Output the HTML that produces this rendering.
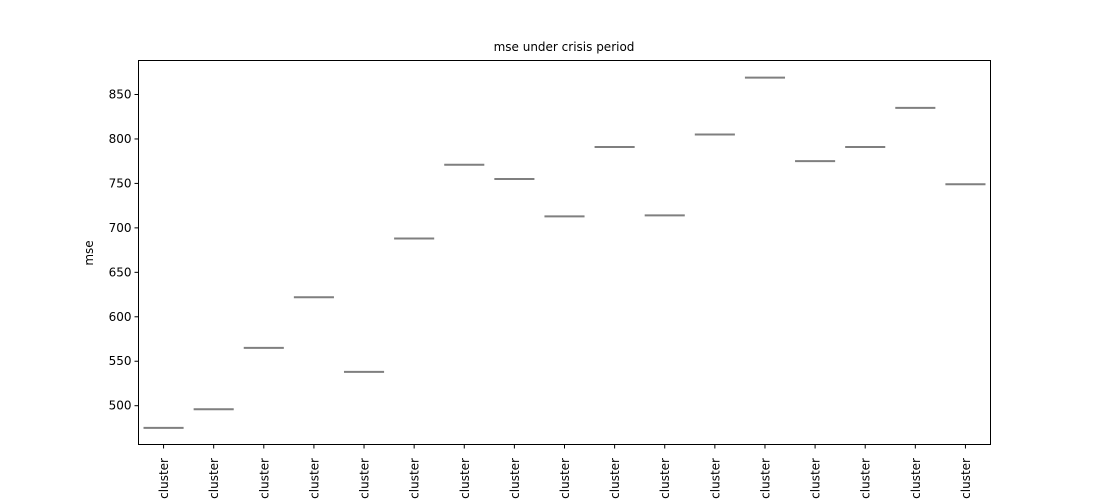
<!DOCTYPE html>
<html><head><meta charset="utf-8"><style>
html,body{margin:0;padding:0;background:#fff;overflow:hidden;}
svg{display:block;font-family:"DejaVu Sans","Liberation Sans",sans-serif;}
</style></head><body>
<svg id="chart" width="1100" height="500" viewBox="0 0 1100 500">
<text x="564" y="51" font-size="12" text-anchor="middle">mse under crisis period</text>
<text transform="translate(93,253) rotate(-90)" font-size="12" text-anchor="middle">mse</text>
<g id="marks"></g>
<rect x="138.5" y="60.5" width="852" height="384" fill="none" stroke="#000" stroke-width="1"/>
</svg>
<script>
const categories = ["1 cluster","1 cluster","1 cluster","1 cluster","1 cluster","1 cluster","1 cluster","1 cluster","1 cluster","1 cluster","1 cluster","1 cluster","1 cluster","1 cluster","1 cluster","1 cluster","1 cluster"];
const values = [475, 496, 565, 622, 538, 688, 771, 755, 713, 791, 714, 805, 869, 775, 791, 835, 749];
const yTicks = [500, 550, 600, 650, 700, 750, 800, 850];

const L = 138.5, R = 990.5, T = 60.5, B = 444.5;
const y = v => 405.7 - (v - 500) * (405.7 - 94.5) / 350;
const bw = (R - L) / categories.length;
const xc = i => L + bw * (i + 0.5);
const NS = "http://www.w3.org/2000/svg";
const g = document.getElementById("marks");
function mk(tag, attrs) { const e = document.createElementNS(NS, tag); for (const k in attrs) e.setAttribute(k, attrs[k]); g.appendChild(e); return e; }

yTicks.forEach(t => {
  const ln = mk("line", {x1: L - 4, x2: L, y1: y(t), y2: y(t), stroke: "#000", "stroke-width": 1});
  
  
  const tx = mk("text", {x: L - 7, y: y(t) + 4, "font-size": 12, "text-anchor": "end"});
  tx.textContent = t;
  
  
});

categories.forEach((c, i) => {
  const x = xc(i);
  const tk = mk("line", {x1: x, x2: x, y1: B, y2: B + 4, stroke: "#000", "stroke-width": 1});
  
  
  const tx = mk("text", {transform: `translate(${x + 4.5},458) rotate(-90)`, "font-size": 12, "text-anchor": "end"});
  tx.textContent = c;
  
  
  const m = mk("line", {x1: x - bw * 0.4, x2: x + bw * 0.4, y1: y(values[i]), y2: y(values[i]), stroke: "#7f7f7f", "stroke-width": 2});
  
  
});
</script>
</body></html>
